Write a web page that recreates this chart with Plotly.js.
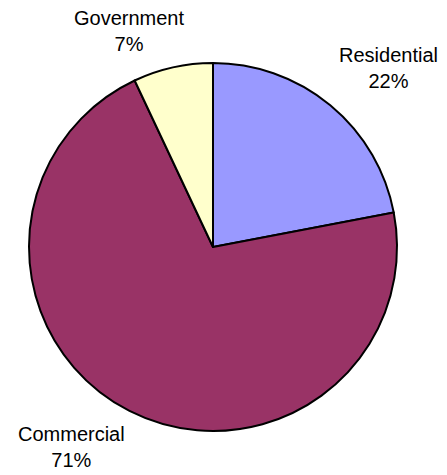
<!DOCTYPE html>
<html>
<head>
<meta charset="utf-8">
<script src="https://cdn.plot.ly/plotly-3.0.1.min.js"></script>
<style>html,body{margin:0;padding:0;background:#fff}#chart{width:447px;height:475px}</style>
</head>
<body>
<div id="chart"></div>
<script>
const categories = ["Residential", "Commercial", "Government"];
const shares = [22, 71, 7];
const colors = ["#9999FF", "#993366", "#FFFFCC"];
const labelPos = [[388, 68], [71, 447], [129, 31]];

const W = 447, H = 475;
const total = shares.reduce((a, b) => a + b, 0);
const annotations = categories.map((c, i) => ({
  text: c + "<br>" + Math.round(shares[i] / total * 100) + "%",
  x: labelPos[i][0] / W, y: 1 - labelPos[i][1] / H,
  xref: "paper", yref: "paper", xanchor: "center", yanchor: "middle",
  showarrow: false, align: "center",
  font: {family: "Liberation Sans, Arial, sans-serif", size: 20, color: "#000"}
}));

Plotly.newPlot("chart", [{
  type: "pie",
  labels: categories,
  values: shares,
  sort: false,
  direction: "clockwise",
  rotation: 0,
  textinfo: "none",
  hoverinfo: "none",
  marker: {colors: colors, line: {color: "#000", width: 2}},
  domain: {x: [29 / W, 397 / W], y: [(H - 431) / H, (H - 63) / H]},
  showlegend: false
}], {
  width: W, height: H,
  margin: {l: 0, r: 0, t: 0, b: 0},
  paper_bgcolor: "#fff",
  showlegend: false,
  annotations: annotations
}, {staticPlot: true});
</script>
</body>
</html>
